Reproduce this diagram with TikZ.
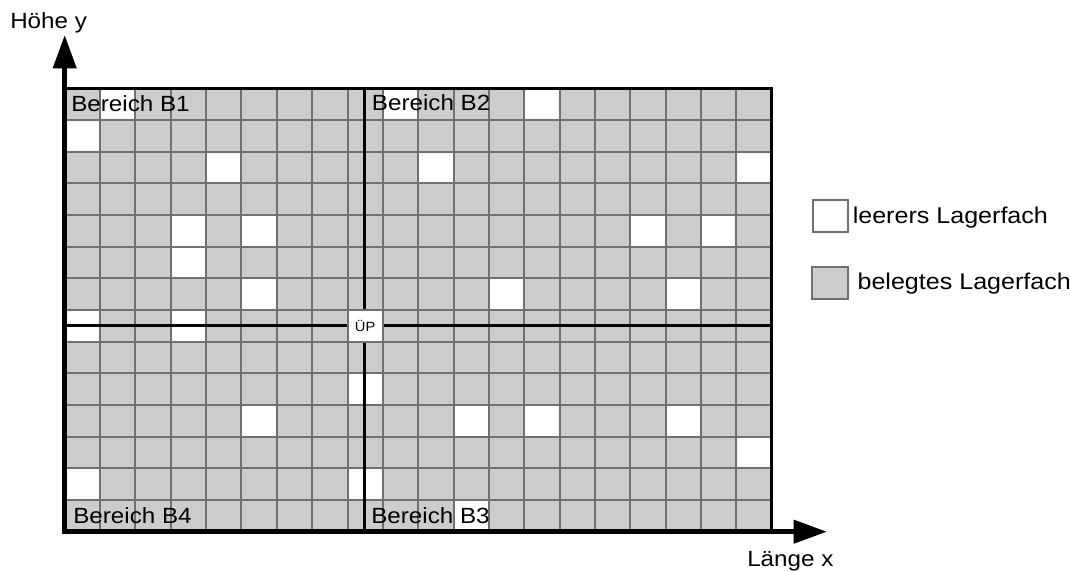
\documentclass[tikz,border=0pt]{standalone}
\usepackage{fontspec}
\usepackage{graphicx}
\setmainfont{Liberation Sans}
\usetikzlibrary{arrows.meta}
\definecolor{cellgray}{RGB}{204,204,204}
\definecolor{gridgray}{RGB}{112,112,112}
\newcommand{\stxt}[1]{\scalebox{1.1}[1]{#1}}
\tikzset{
  gridline/.style={draw=gridgray, line width=1.5pt},
  divider/.style={draw=black, line width=2.4pt},
  frameline/.style={draw=black, line width=2.2pt},
  axisline/.style={draw=black, line width=3.75pt, -{Triangle[length=25pt,width=17pt]}},
  lbl/.style={font=\fontsize{16.5}{19}\selectfont, inner sep=0pt, anchor=base west},
  leglbl/.style={lbl, font=\fontsize{17.1}{20}\selectfont},
  emptycell/.style={fill=white},
}
\begin{document}
\begin{tikzpicture}[x=0.75pt,y=-0.75pt]
\useasboundingbox (0,0) rectangle (1070,571);
\begin{scope}[shift={(64.7,88.3)}]
\begin{scope}[x=26.5125pt,y=-23.7525pt]
  % occupied background
  \fill[cellgray] (0,0) rectangle (20,14);
  % empty cells
  \foreach \c/\r in {1/0,9/0,13/0, 0/1, 4/2,10/2,19/2, 3/4,5/4,16/4,18/4, 3/5,
                     5/6,12/6,17/6, 0/7,3/7, 8/9, 5/10,11/10,13/10,17/10, 19/11,
                     0/12,8/12, 11/13}
    \fill[emptycell] (\c,\r) rectangle (\c+1,\r+1);
  % grid
  \foreach \c in {1,...,19} \draw[gridline] (\c,0) -- (\c,14);
  \foreach \r in {1,...,13} \draw[gridline] (0,\r) -- (20,\r);
  % dividers
  \draw[divider] (8.47,0) -- (8.47,14);
  \draw[divider] (0,7.5) -- (20,7.5);
  % transfer point
  \filldraw[fill=white, draw=gridgray, line width=1.5pt] (8,7) rectangle (9,8);
  \node[inner sep=0pt, font=\fontsize{10}{12}\selectfont] (up) at (8.5,7.5) {\stxt{ÜP}};
  % frame
  \draw[frameline] (0,0) -- (20,0) -- (20,14);
\end{scope}
\end{scope}
% axes
\coordinate (xstart) at (62.2,531.7);
\coordinate (xend) at (827,531.7);
\coordinate (ystart) at (64.7,534.2);
\coordinate (yend) at (64.7,35);
\draw[axisline] (xstart) -- (xend);
\draw[axisline] (ystart) -- (yend);
% labels
\node[lbl] (hy) at (10,28) {\stxt{Höhe y}};
\node[lbl] (lx) at (747,566) {\stxt{Länge x}};
\node[lbl] (b1) at (71,111.7) {\stxt{Bereich B1}};
\node[lbl] (b2) at (371.7,110.9) {\stxt{Bereich B2}};
\node[lbl] (b4) at (73,523.3) {\stxt{Bereich B4}};
\node[lbl] (b3) at (371,523.3) {\stxt{Bereich B3}};
% legend
\filldraw[fill=white, draw=gridgray, line width=1.5pt] (812.7,200) rectangle (848.3,231.7);
\filldraw[fill=cellgray, draw=gridgray, line width=1.5pt] (812.2,267.3) rectangle (848.3,299);
\node[leglbl] (l1) at (852.5,223.3) {\stxt{leerers Lagerfach}};
\node[leglbl] (l2) at (857.3,289) {\stxt{belegtes Lagerfach}};
\end{tikzpicture}
\end{document}
